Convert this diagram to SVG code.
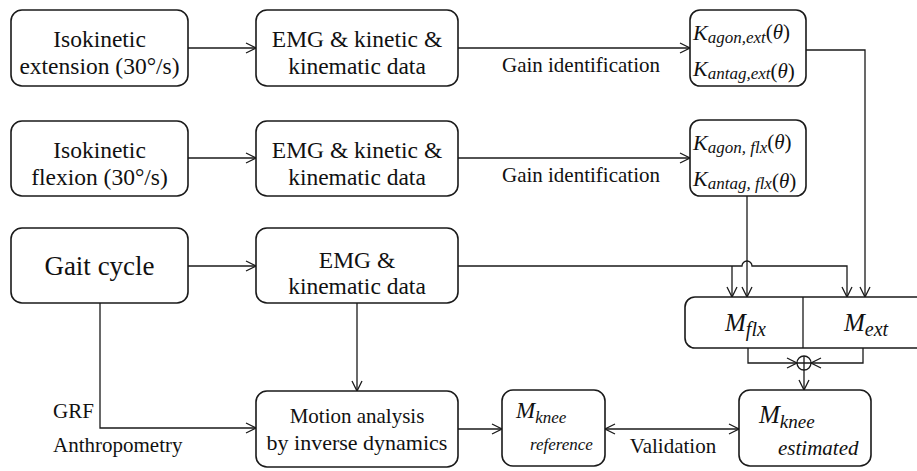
<svg xmlns="http://www.w3.org/2000/svg" width="917" height="471" viewBox="0 0 917 471">
  <defs>
    <marker id="arrow" markerUnits="userSpaceOnUse" markerWidth="14" markerHeight="14" refX="10" refY="5" orient="auto" overflow="visible">
      <path d="M0,0 L10,5 L0,10" fill="none" stroke="#1a1a1a" stroke-width="1.3"/>
    </marker>
    <marker id="arrowStart" markerUnits="userSpaceOnUse" markerWidth="14" markerHeight="14" refX="0" refY="5" orient="auto" overflow="visible">
      <path d="M10,0 L0,5 L10,10" fill="none" stroke="#1a1a1a" stroke-width="1.3"/>
    </marker>
  </defs>
  <rect width="917" height="471" fill="#fff"/>

  <!-- connectors: plain wires with open arrowheads -->
  <g id="connectors" fill="none" stroke="#1a1a1a" stroke-width="1.3">
    <path marker-end="url(#arrow)" d="M188,48 H256"/>
    <path marker-end="url(#arrow)" d="M188,158 H256"/>
    <path marker-end="url(#arrow)" d="M188,266 H256"/>
    <path marker-end="url(#arrow)" d="M458,48 H690"/>
    <path marker-end="url(#arrow)" d="M458,158 H690"/>
    <path marker-end="url(#arrow)" d="M806,50 H865 V297"/>
    <path marker-end="url(#arrow)" d="M747,196 V297"/>
    <path marker-end="url(#arrow)" d="M458,266 H742 A5,5 0 0 1 752,266 H847 V297"/>
    <path marker-end="url(#arrow)" d="M732,266 V297"/>
    <path marker-end="url(#arrow)" d="M100,303 V428 H256"/>
    <path marker-end="url(#arrow)" d="M357,303 V391"/>
    <path marker-end="url(#arrow)" d="M458,429 H502"/>
    <path marker-end="url(#arrow)" marker-start="url(#arrowStart)" d="M605,429 H739"/>
    <path marker-end="url(#arrow)" d="M748,348 V363 H797"/>
    <path marker-end="url(#arrow)" d="M863,348 V363 H811"/>
    <path marker-end="url(#arrow)" d="M804,370 V390"/>
    <g id="sum">
      <circle cx="804" cy="363" r="7" fill="#fff"/>
      <path d="M797,363 H811 M804,356 V370"/>
    </g>
  </g>
  <g id="connector-labels" fill="#111" font-size="21" font-family="Liberation Serif">
    <text text-anchor="middle" x="581" y="72">Gain identification</text>
    <text text-anchor="middle" x="581" y="182">Gain identification</text>
    <text x="53" y="418">GRF</text>
    <text x="53" y="452">Anthropometry</text>
    <text text-anchor="middle" x="673" y="453">Validation</text>
  </g>

  <!-- process boxes -->
  <g id="nodes" fill="#111" font-size="23.5" text-anchor="middle" font-family="Liberation Serif">
    <g id="iso-ext">
      <rect x="11" y="10" width="177" height="76" rx="11" fill="#fff" stroke="#1a1a1a" stroke-width="1.6"/>
      <text x="99.5" y="47">Isokinetic</text>
      <text x="99.5" y="74">extension (30&#176;/s)</text>
    </g>
    <g id="iso-flx">
      <rect x="11" y="121" width="177" height="75" rx="11" fill="#fff" stroke="#1a1a1a" stroke-width="1.6"/>
      <text x="99.5" y="158">Isokinetic</text>
      <text x="99.5" y="185">flexion (30&#176;/s)</text>
    </g>
    <g id="gait">
      <rect x="11" y="228" width="177" height="75" rx="11" fill="#fff" stroke="#1a1a1a" stroke-width="1.6"/>
      <text font-size="27" x="99.5" y="275">Gait cycle</text>
    </g>
    <g id="data-ext">
      <rect x="256" y="10" width="202" height="76" rx="11" fill="#fff" stroke="#1a1a1a" stroke-width="1.6"/>
      <text x="357" y="47">EMG &amp; kinetic &amp;</text>
      <text x="357" y="74">kinematic data</text>
    </g>
    <g id="data-flx">
      <rect x="256" y="121" width="202" height="75" rx="11" fill="#fff" stroke="#1a1a1a" stroke-width="1.6"/>
      <text x="357" y="158">EMG &amp; kinetic &amp;</text>
      <text x="357" y="185">kinematic data</text>
    </g>
    <g id="data-gait">
      <rect x="256" y="228" width="202" height="75" rx="11" fill="#fff" stroke="#1a1a1a" stroke-width="1.6"/>
      <text x="357" y="268">EMG &amp;</text>
      <text x="357" y="294">kinematic data</text>
    </g>
    <g id="motion">
      <rect x="256" y="391" width="202" height="76" rx="11" fill="#fff" stroke="#1a1a1a" stroke-width="1.6"/>
      <text font-size="21" x="357" y="423">Motion analysis</text>
      <text font-size="22" x="357" y="450">by inverse dynamics</text>
    </g>
  </g>

  <!-- quantity boxes with italic math labels -->
  <g id="math-nodes" fill="#111" font-style="italic" font-family="Liberation Serif">
    <g id="gain-ext">
      <rect x="690" y="10" width="116" height="76" rx="10" fill="#fff" stroke="#1a1a1a" stroke-width="1.6"/>
      <text x="693" y="40" font-size="22">K<tspan font-size="17" dy="3">agon,ext</tspan><tspan font-size="21" font-style="normal" dy="-4">(</tspan><tspan font-size="21">&#952;</tspan><tspan font-size="21" font-style="normal">)</tspan></text>
      <text x="693" y="76" font-size="22">K<tspan font-size="17" dy="3">antag,ext</tspan><tspan font-size="21" font-style="normal" dy="-1">(</tspan><tspan font-size="21">&#952;</tspan><tspan font-size="21" font-style="normal">)</tspan></text>
    </g>
    <g id="gain-flx">
      <rect x="690" y="120" width="116" height="76" rx="10" fill="#fff" stroke="#1a1a1a" stroke-width="1.6"/>
      <text x="693" y="150" font-size="22">K<tspan font-size="17" dy="3">agon, flx</tspan><tspan font-size="21" font-style="normal" dy="-4">(</tspan><tspan font-size="21">&#952;</tspan><tspan font-size="21" font-style="normal">)</tspan></text>
      <text x="693" y="186" font-size="22">K<tspan font-size="17" dy="3">antag, flx</tspan><tspan font-size="21" font-style="normal" dy="-1">(</tspan><tspan font-size="21">&#952;</tspan><tspan font-size="21" font-style="normal">)</tspan></text>
    </g>
    <g id="moments">
      <rect x="685" y="297" width="245" height="51" rx="10" fill="#fff" stroke="#1a1a1a" stroke-width="1.6"/>
      <line x1="803" y1="297" x2="803" y2="348" stroke="#1a1a1a" stroke-width="1.3"/>
      <text x="725" y="331" font-size="25">M<tspan font-size="20" dy="5">flx</tspan></text>
      <text x="844" y="331" font-size="25">M<tspan font-size="20" dy="5">ext</tspan></text>
    </g>
    <g id="knee-ref">
      <rect x="502" y="390" width="103" height="76" rx="11" fill="#fff" stroke="#1a1a1a" stroke-width="1.6"/>
      <text x="516" y="418" font-size="23">M<tspan font-size="17" dy="5">knee</tspan></text>
      <text x="530" y="450" font-size="17">reference</text>
    </g>
    <g id="knee-est">
      <rect x="739" y="390" width="132" height="76" rx="11" fill="#fff" stroke="#1a1a1a" stroke-width="1.6"/>
      <text x="759" y="423" font-size="25">M<tspan font-size="19" dy="5">knee</tspan></text>
      <text x="778" y="455" font-size="21">estimated</text>
    </g>
  </g>
</svg>
